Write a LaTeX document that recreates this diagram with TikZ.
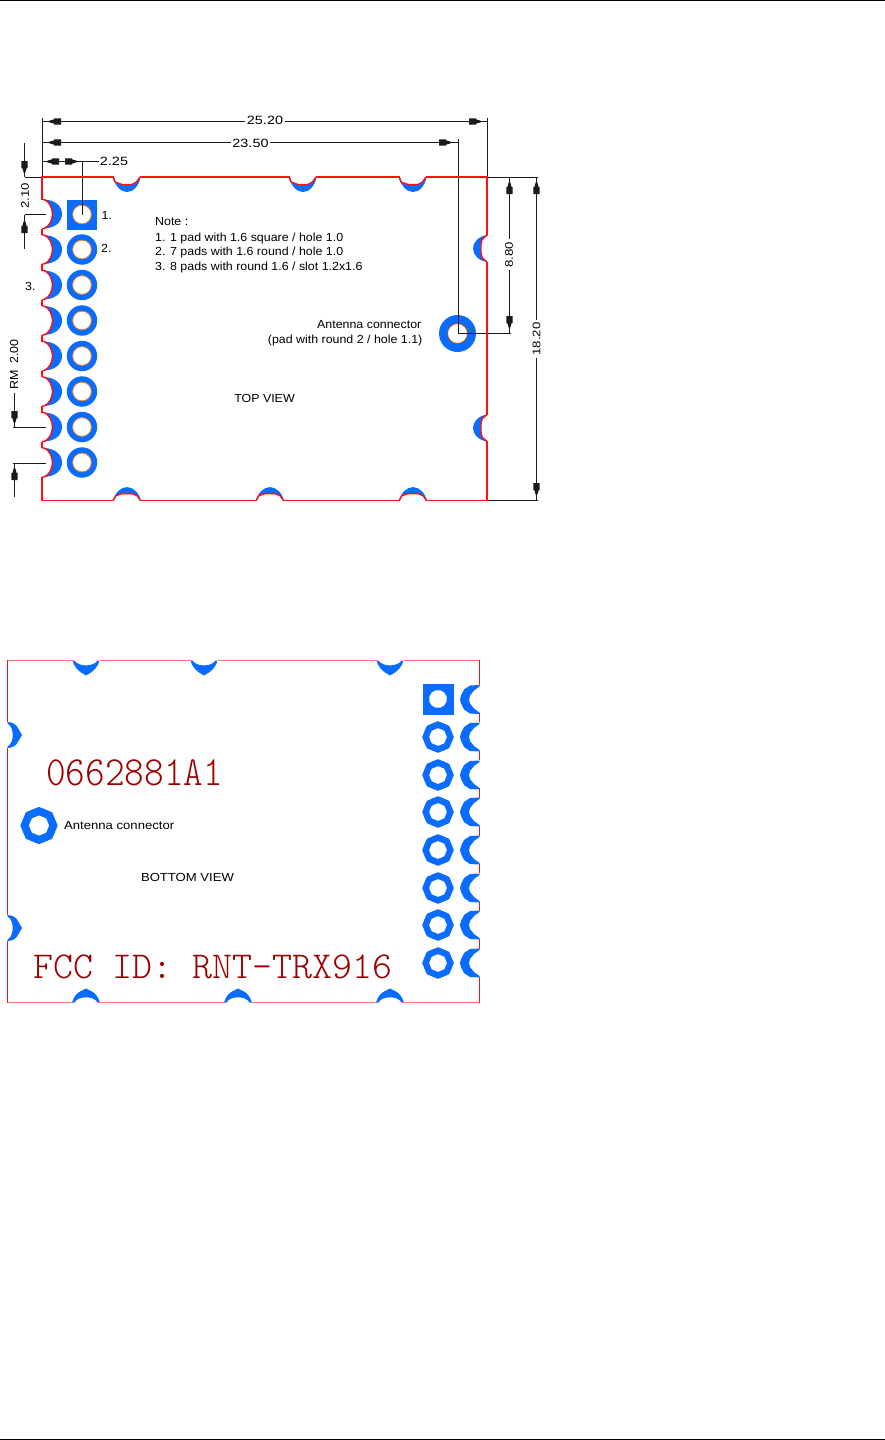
\documentclass[tikz,border=0pt]{standalone}
\usepackage{fontspec}
\setmainfont{Liberation Sans}
\newfontfamily\fnote[FakeStretch=1.06]{Liberation Sans}
\newfontfamily\fbot[FakeStretch=1.12]{Liberation Sans}
\newfontfamily\fdim[FakeStretch=1.2]{Liberation Sans}
\newfontfamily\fstamp{Latin Modern Mono Light}
\definecolor{padblue}{HTML}{0A6CFF}
\definecolor{pcbred}{HTML}{FF1010}
\definecolor{pcbpink}{HTML}{FF7070}
\definecolor{markred}{HTML}{990000}
\definecolor{holeedge}{HTML}{E87820}
\definecolor{dimblack}{HTML}{1A1A1A}
\newcommand{\dimtip}[3]{\fill[dimblack,shift={(#1,#2)},rotate=#3] (0,0)--(7,-2.2)--(7,-3.2)--(14,-3.2)--(14,3.2)--(7,3.2)--(7,2.2)--cycle;}
\newcommand{\gonpad}[4]{%
  \fill[padblue,shift={(#1,#2)}] plot[samples=17,domain=90:450] ({#3*(0.965+0.035*cos(8*\x))*cos(\x)},{#3*(0.965+0.035*cos(8*\x))*sin(\x)}) -- cycle;
  \fill[white,shift={(#1,#2)}] plot[samples=17,domain=90:450] ({#4*(0.965+0.035*cos(8*\x))*cos(\x)},{#4*(0.965+0.035*cos(8*\x))*sin(\x)}) -- cycle;}
\tikzset{
  dimline/.style={draw=dimblack,line width=0.95pt},
  pcbline/.style={draw=pcbred,line width=1.4pt},
  pinkline/.style={draw=pcbpink,line width=1pt},
  lab/.style={inner sep=0,text=black,font=\fnote\fontsize{11.7}{13}\selectfont},
  dlab/.style={inner sep=0,text=black,font=\fdim\fontsize{12}{13}\selectfont},
  vlab/.style={inner sep=0,text=black,font=\fdim\fontsize{11}{13}\selectfont},
  view/.style={inner sep=0,text=black,font=\fbot\fontsize{11.7}{13}\selectfont},
  stamp/.style={inner sep=0,text=markred,font=\fstamp\fontsize{38}{39}\selectfont},
  topnotch/.pic={
    \fill[padblue] (-14,0) .. controls (-12,9) and (-6,15) .. (0,15) .. controls (6,15) and (12,9) .. (13.5,0) -- cycle;
    \fill[white] (-13,-0.5) -- (-11,5) -- (-5,7.5) -- (5,7.5) -- (9,5) -- (12.5,-0.5) -- cycle;
    \draw[pcbline] (-14,0) -- (-12,5) -- (-5,7.5) -- (5,7.5) -- (9.5,5) -- (13,0);
  },
  botnotch/.pic={
    \fill[padblue] (-14,0) .. controls (-12,-8) and (-6,-13.5) .. (0,-13.5) .. controls (6,-13.5) and (12,-8) .. (14,0) -- cycle;
    \fill[white] (-13,0.5) -- (-11,-5) -- (-5,-7) -- (5,-7) -- (10,-5) -- (13,0.5) -- cycle;
    \draw[pcbline] (-14,0) -- (-11,-5) -- (-5,-7) -- (5,-7) -- (10,-5) -- (13.5,0);
  },
  rightnotch/.pic={
    \fill[padblue] (0,-13.5) .. controls (-9,-12) and (-14,-6) .. (-14,0) .. controls (-14,6) and (-9,12) .. (0,13.5) -- cycle;
    \fill[white] (0.5,-13) -- (-5,-9) -- (-6,-4) -- (-6,4) -- (-5,9) -- (0.5,13) -- cycle;
    \draw[pcbline] (0,-13.5) -- (-5,-9) -- (-6,-4) -- (-6,4) -- (-5,9) -- (0,13.5);
  },
  leftslot/.pic={
    \fill[padblue] (1,-14.5) .. controls (13,-14.5) and (20,-8) .. (20,0) .. controls (20,8) and (13,14.5) .. (1,14.5) .. controls (7,13) and (10.5,6) .. (10.5,0) .. controls (10.5,-6) and (7,-13) .. (1,-14.5) -- cycle;
    \draw[pcbline] (0,-14.5) -- (2,-14.5) .. controls (7,-13) and (10.5,-6) .. (10.5,0) .. controls (10.5,6) and (7,13) .. (2,14.5) -- (0,14.5);
  },
  btopnotch/.pic={
    \fill[padblue] (-13.5,0) .. controls (-12,6) and (-8,10) .. (-5,12) -- (0,15) -- (5,12) .. controls (8,10) and (12,6) .. (13.5,0) -- (11.5,0) .. controls (8,6.5) and (-8,6.5) .. (-11.5,0) -- cycle;
  },
  bbotnotch/.pic={
    \fill[padblue] (-14,0) .. controls (-12,-6) and (-9,-10) .. (-5,-11.5) -- (0,-14) -- (5,-11.5) .. controls (9,-10) and (12,-6) .. (14,0) -- (11.5,0) .. controls (8,-7) and (-8,-7) .. (-11.5,0) -- cycle;
  },
  bleftnotch/.pic={
    \fill[padblue] (0,-13) .. controls (4,-13) and (9,-11) .. (11,-6) -- (14.5,0) -- (11,6) .. controls (9,11) and (4,13) .. (0,13) -- (0,11.5) .. controls (7,8) and (7,-8) .. (0,-11.5) -- cycle;
  },
  brightslot/.pic={
    \fill[padblue] (19.5,-14.5) -- (10,-14) -- (4,-10) -- (1,-4) -- (0,0) -- (1,4) -- (4,10) -- (10,14) -- (19.5,14.5) -- (19.5,13) -- (14,9) -- (10,4) -- (9,0) -- (10,-4) -- (14,-9) -- (19.5,-13) -- cycle;
  }
}
\begin{document}
\begin{tikzpicture}[x=1pt,y=-1pt]
\useasboundingbox (0,0) rectangle (885,1440);
\fill[white] (0,0) rectangle (885,1440);
% page rules
\draw[black,line width=1pt] (0,0.5) -- (885,0.5);
\draw[black,line width=1pt] (0,1439.5) -- (885,1439.5);

%%% TOP VIEW
% dimension lines
\draw[dimline] (42,118) -- (42,177);
\draw[dimline] (487,118) -- (487,177);
\draw[dimline] (458.5,139) -- (458.5,333.5);
\draw[dimline] (25,177) -- (42,177);
\draw[dimline] (487,177) -- (538,177);
\draw[dimline] (487,500.6) -- (538,500.6);
\draw[dimline] (458.5,333.5) -- (511,333.5);
\draw[dimline] (42,121.5) -- (245,121.5);
\draw[dimline] (285,121.5) -- (487,121.5);
\draw[dimline] (42,142.5) -- (231,142.5);
\draw[dimline] (270,142.5) -- (458.5,142.5);
\draw[dimline] (42,161.5) -- (99,161.5);
\draw[dimline] (82.5,161.5) -- (82.5,215);
\draw[dimline] (509.5,177) -- (509.5,239);
\draw[dimline] (509.5,270) -- (509.5,333.5);
\draw[dimline] (536.5,177) -- (536.5,320);
\draw[dimline] (536.5,358) -- (536.5,500.6);
\draw[dimline] (24.5,143) -- (24.5,177);
\draw[dimline] (24.5,214.5) -- (24.5,249);
\draw[dimline] (24.5,214.5) -- (46,214.5);
\draw[dimline] (14.5,393) -- (14.5,427.5);
\draw[dimline] (13,427.5) -- (46,427.5);
\draw[dimline] (13,463.5) -- (46,463.5);
\draw[dimline] (14.5,463.5) -- (14.5,497);

% board outline
\draw[pcbline] (42,200) -- (42,177) -- (487,177) -- (487,500.6) -- (42,500.6) -- (42,477);
\foreach \a/\b in {228.5/235,264/271,299.5/306,335/342,370.5/377,406/413,441.5/448}
  \draw[pcbline] (42,\a) -- (42,\b);
\foreach \y in {248.5,428}
{ \draw[white,line width=2.2pt] (487,\y-13) -- (487,\y+13);
  \pic at (487,\y) {rightnotch}; }
\foreach \y in {214,249.5,285,320.5,356,391.5,427,462.5}
  \pic at (42,\y) {leftslot};
\foreach \x in {127,303,413}
{ \draw[white,line width=2.2pt] (\x-13,177) -- (\x+13,177);
  \pic at (\x,177) {topnotch}; }
\foreach \x in {127,270,413}
{ \draw[white,line width=2.2pt] (\x-13,500.6) -- (\x+13,500.6);
  \pic at (\x,500.6) {botnotch}; }

% pads
\fill[padblue] (66.5,200) rectangle (97,229.5);
\foreach \y in {249.5,285,320.5,356,391.5,427,462.5}
  \fill[padblue] (82,\y) circle[radius=15.2];
\foreach \y in {214.5,249.5,285,320.5,356,391.5,427,462.5}
  \draw[holeedge,fill=white,line width=0.8pt] (82,\y) circle[radius=9.4];
\fill[padblue] (457.5,333.5) circle[radius=18.5];
\draw[draw=holeedge!70!black,fill=white,line width=0.8pt] (457.5,333.5) circle[radius=10];
% redraw the lines that cross the pads
\draw[dimline] (82.5,200) -- (82.5,215);
\draw[dimline] (458.5,300) -- (458.5,333.5) -- (511,333.5);
\draw[pcbline] (487,315) -- (487,350);

% arrowheads
\dimtip{47}{121.5}{0}
\dimtip{483}{121.5}{180}
\dimtip{47}{142.5}{0}
\dimtip{453}{142.5}{180}
\dimtip{45}{161.5}{0}
\dimtip{79}{161.5}{180}
\dimtip{509.5}{180}{-90}
\dimtip{509.5}{330}{90}
\dimtip{536.5}{180}{-90}
\dimtip{536.5}{497}{90}
\dimtip{24.5}{175}{90}
\dimtip{24.5}{219}{-90}
\dimtip{14.5}{425}{90}
\dimtip{14.5}{466}{-90}

% dimension labels
\node[dlab] (d2520) at (265,120.5) {25.20};
\node[dlab] (d2350) at (250.5,143) {23.50};
\node[dlab] (d225) at (114,161.5) {2.25};
\node[vlab,rotate=90] (d880) at (509,255) {8.80};
\node[vlab,rotate=90] (d1820) at (536.5,339) {18.20};
\node[vlab,rotate=90] (d210) at (25,196) {2.10};
\node[lab,rotate=90] (drm) at (14,364.5) {RM\hspace{7pt}2.00};

% notes
\node[lab,anchor=west] (n0) at (155,221.5) {Note :};
\node[lab,anchor=west] (n1) at (155,238) {1. 1 pad with 1.6 square / hole 1.0};
\node[lab,anchor=west] (n2) at (155,252.5) {2. 7 pads with 1.6 round / hole 1.0};
\node[lab,anchor=west] (n3) at (155,267) {3. 8 pads with round 1.6 / slot 1.2x1.6};
\node[lab,anchor=west] (p1) at (101.5,215) {1.};
\node[lab,anchor=west] (p2) at (101,248.5) {2.};
\node[lab,anchor=west] (p3) at (25,286) {3.};
\node[lab,anchor=east] (a1) at (421.5,324.5) {Antenna connector};
\node[lab,anchor=east] (a2) at (422.5,340.5) {(pad with round 2 / hole 1.1)};
\node[lab] (tv) at (264.5,398.5) {TOP VIEW};

%%% BOTTOM VIEW
\draw[pinkline] (8,660.5) -- (73,660.5);
\draw[pinkline] (100,660.5) -- (191,660.5);
\draw[pinkline] (218,660.5) -- (377,660.5);
\draw[pinkline] (404,660.5) -- (480,660.5);
\draw[pinkline] (8,1002.5) -- (73,1002.5);
\draw[pinkline] (100,1002.5) -- (225,1002.5);
\draw[pinkline] (252,1002.5) -- (377,1002.5);
\draw[pinkline] (404,1002.5) -- (480,1002.5);
\draw[pcbred,line width=1pt] (7.5,660) -- (7.5,722);
\draw[pcbred,line width=1pt] (7.5,748) -- (7.5,915);
\draw[pcbred,line width=1pt] (7.5,941) -- (7.5,1003);
\draw[pcbred,line width=1pt] (479.5,660) -- (479.5,685);
\foreach \a/\b in {713/722,751/760,788/798,826/836,864/873,902/911,939/949}
  \draw[pcbred,line width=1pt] (479.5,\a) -- (479.5,\b);
\draw[pcbred,line width=1pt] (479.5,977) -- (479.5,1003);
\foreach \x in {86,204,390}
  \pic at (\x,660.5) {btopnotch};
\foreach \x in {86,238,390}
  \pic at (\x,1002.5) {bbotnotch};
\foreach \y in {735,928}
  \pic at (7.5,\y) {bleftnotch};
\foreach \y in {699.5,737,775,812,850,888,925,963}
  \pic at (460,\y) {brightslot};
\fill[padblue] (422.5,684) rectangle (453.5,714.5);
\fill[white,shift={(438,699)}] plot[samples=13,domain=75:435] ({9*cos(\x)},{9*sin(\x)}) -- cycle;
\foreach \y in {737,775,812,850,888,925,963}
  \gonpad{438}{\y}{15.8}{8.8};
\gonpad{39}{825.5}{18.6}{10};
\node[view,anchor=west] (ba) at (64,825.5) {Antenna connector};
\node[view] (bv) at (187.5,877) {BOTTOM VIEW};
\node[stamp,anchor=west] (code) at (46,773) {\scalebox{0.985}[1.09]{0662881A1}};
\node[stamp,anchor=west] (fcc) at (33,966.5) {FCC ID: RNT-TRX916};
\end{tikzpicture}
\end{document}
